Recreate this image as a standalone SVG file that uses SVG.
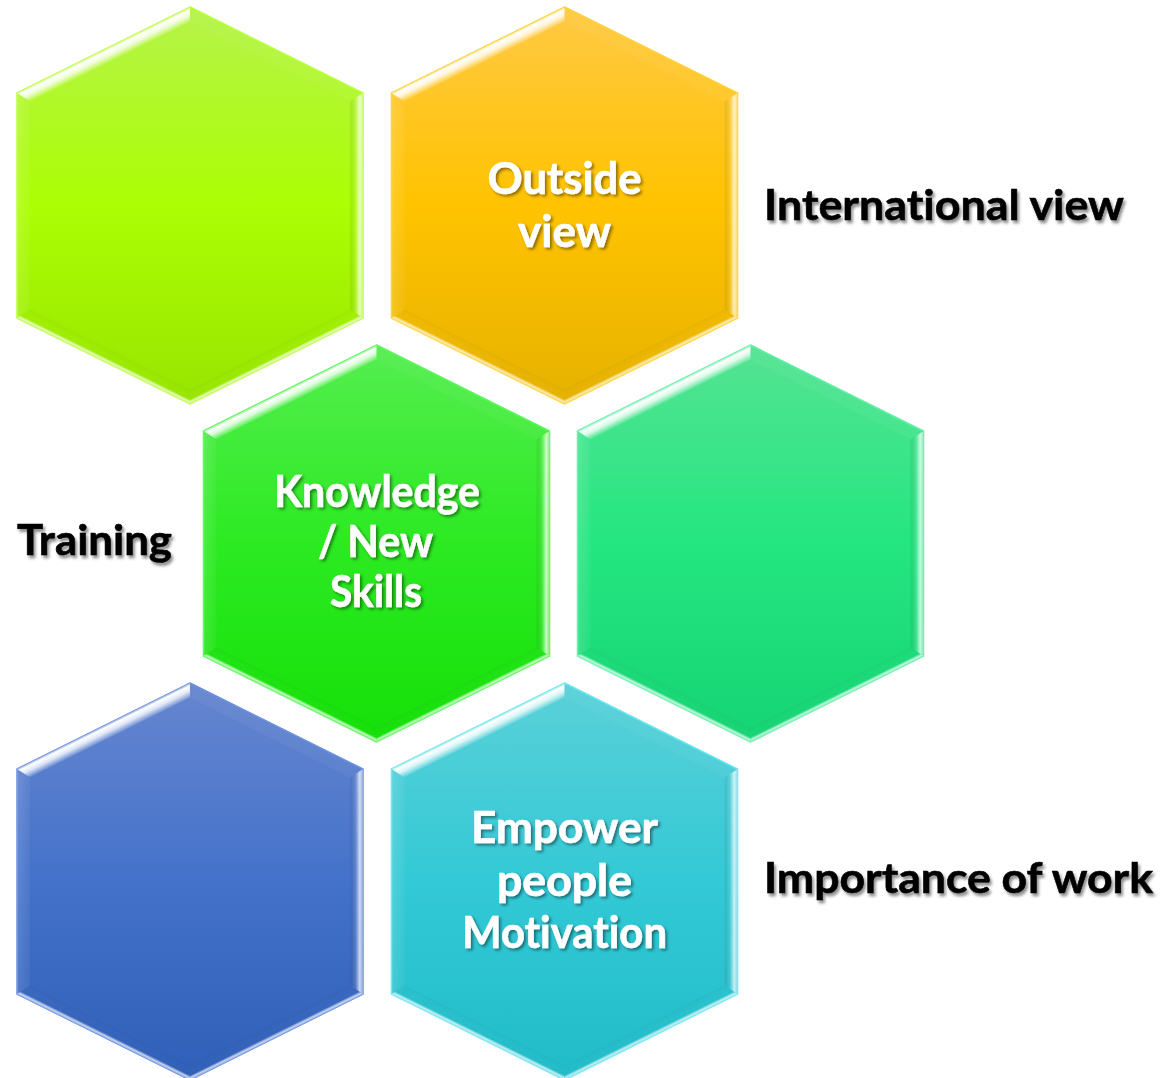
<svg xmlns="http://www.w3.org/2000/svg" xmlns:xlink="http://www.w3.org/1999/xlink" width="1165" height="1078" viewBox="0 0 1165 1078">
  <defs>
    <style>
      .htxt { font-family: "Lato", "Open Sans", "Liberation Sans", sans-serif; font-weight: 700; font-size: 44px; fill: #ffffff; stroke: #ffffff; stroke-width: 0.6; text-anchor: middle; filter: url(#wshadow); font-variant-ligatures: none; font-feature-settings: "liga" 0, "clig" 0; }
      .ltxt { font-family: "Lato", "Open Sans", "Liberation Sans", sans-serif; font-weight: 700; font-size: 42px; fill: #000000; stroke: #000000; stroke-width: 0.6; filter: url(#bshadow); font-variant-ligatures: none; font-feature-settings: "liga" 0, "clig" 0; }
      .outer { stroke-width: 1.5; }
    </style>
    <filter id="wshadow" x="-10%" y="-30%" width="120%" height="160%">
      <feDropShadow dx="2" dy="2" stdDeviation="1.5" flood-color="#000000" flood-opacity="0.45"/>
    </filter>
    <filter id="bshadow" x="-10%" y="-30%" width="120%" height="160%">
      <feDropShadow dx="2" dy="3" stdDeviation="1.8" flood-color="#000000" flood-opacity="0.45"/>
    </filter>
    <polygon id="hexO" points="0,-198.5 173,-112.5 173,112.5 0,198.5 -173,112.5 -173,-112.5"/>
    <linearGradient id="gTL" gradientUnits="userSpaceOnUse" x1="-86.5" y1="-155.5" x2="-80.3" y2="-143">
      <stop offset="0" stop-color="#fff" stop-opacity="0.3"/>
      <stop offset="0.16" stop-color="#fff" stop-opacity="1"/>
      <stop offset="0.5" stop-color="#fff" stop-opacity="0.8"/>
      <stop offset="1" stop-color="#fff" stop-opacity="0"/>
    </linearGradient>
    <linearGradient id="gR" gradientUnits="userSpaceOnUse" x1="160" y1="0" x2="173" y2="0">
      <stop offset="0" stop-color="#000" stop-opacity="0.06"/>
      <stop offset="0.45" stop-color="#fff" stop-opacity="0.15"/>
      <stop offset="0.75" stop-color="#fff" stop-opacity="0.75"/>
      <stop offset="0.92" stop-color="#fff" stop-opacity="0.5"/>
      <stop offset="1" stop-color="#fff" stop-opacity="0.2"/>
    </linearGradient>
    <linearGradient id="gBR" gradientUnits="userSpaceOnUse" x1="86.5" y1="155.5" x2="80.3" y2="143">
      <stop offset="0" stop-color="#fff" stop-opacity="0.3"/>
      <stop offset="0.12" stop-color="#fff" stop-opacity="0.75"/>
      <stop offset="0.3" stop-color="#fff" stop-opacity="0"/>
      <stop offset="1" stop-color="#000" stop-opacity="0.04"/>
    </linearGradient>
    <linearGradient id="gBL" gradientUnits="userSpaceOnUse" x1="-86.5" y1="155.5" x2="-80.3" y2="143">
      <stop offset="0" stop-color="#fff" stop-opacity="0.3"/>
      <stop offset="0.12" stop-color="#fff" stop-opacity="0.75"/>
      <stop offset="0.3" stop-color="#fff" stop-opacity="0"/>
      <stop offset="1" stop-color="#000" stop-opacity="0.04"/>
    </linearGradient>
    <linearGradient id="gL" gradientUnits="userSpaceOnUse" x1="-173" y1="0" x2="-160" y2="0">
      <stop offset="0" stop-color="#fff" stop-opacity="0.14"/>
      <stop offset="1" stop-color="#fff" stop-opacity="0.04"/>
    </linearGradient>
    <g id="bevel">
      <polygon points="-173,-112.5 0,-198.5 0,-184 -160,-104" fill="url(#gTL)"/>
      <polygon points="0,-198.5 173,-112.5 160,-104 0,-184" fill="#fff" fill-opacity="0.04"/>
      <polygon points="173,-112.5 173,112.5 160,104 160,-104" fill="url(#gR)"/>
      <polygon points="173,112.5 0,198.5 0,184 160,104" fill="url(#gBR)"/>
      <polygon points="0,198.5 -173,112.5 -160,104 0,184" fill="url(#gBL)"/>
      <polygon points="-173,112.5 -173,-112.5 -160,-104 -160,104" fill="url(#gL)"/>
    </g>
    <linearGradient id="fLime" x1="0" y1="0" x2="0" y2="1">
      <stop offset="0" stop-color="#b6f34a"/>
      <stop offset="0.5" stop-color="#abfe04"/>
      <stop offset="1" stop-color="#98e500"/>
    </linearGradient>
    <linearGradient id="fOrange" x1="0" y1="0" x2="0" y2="1">
      <stop offset="0" stop-color="#ffc944"/>
      <stop offset="0.5" stop-color="#ffc300"/>
      <stop offset="1" stop-color="#e6b200"/>
    </linearGradient>
    <linearGradient id="fGreen" x1="0" y1="0" x2="0" y2="1">
      <stop offset="0" stop-color="#55ee50"/>
      <stop offset="0.5" stop-color="#2cea22"/>
      <stop offset="1" stop-color="#15e008"/>
    </linearGradient>
    <linearGradient id="fTeal" x1="0" y1="0" x2="0" y2="1">
      <stop offset="0" stop-color="#55e393"/>
      <stop offset="0.5" stop-color="#24e680"/>
      <stop offset="1" stop-color="#15d474"/>
    </linearGradient>
    <linearGradient id="fBlue" x1="0" y1="0" x2="0" y2="1">
      <stop offset="0" stop-color="#6686d0"/>
      <stop offset="0.5" stop-color="#4472ca"/>
      <stop offset="1" stop-color="#2f5fb8"/>
    </linearGradient>
    <linearGradient id="fCyan" x1="0" y1="0" x2="0" y2="1">
      <stop offset="0" stop-color="#5ad1d8"/>
      <stop offset="0.5" stop-color="#33c9d6"/>
      <stop offset="1" stop-color="#20bcc8"/>
    </linearGradient>
  </defs>

  <rect width="1165" height="1078" fill="#ffffff"/>

  <g id="hex-lime" transform="translate(190,205.5)">
    <use xlink:href="#hexO" fill="url(#fLime)" stroke="#b8ff3a" class="outer"/>
    <use xlink:href="#bevel"/>
  </g>

  <g id="hex-outside-view" transform="translate(564.5,205.5)">
    <use xlink:href="#hexO" fill="url(#fOrange)" stroke="#ffd030" class="outer"/>
    <use xlink:href="#bevel"/>
    <text class="htxt" x="0" y="-11.5" textLength="154" lengthAdjust="spacingAndGlyphs">Outside</text>
    <text class="htxt" x="0" y="41.5" textLength="93" lengthAdjust="spacingAndGlyphs">view</text>
  </g>

  <g id="hex-knowledge" transform="translate(376.5,543.5)">
    <use xlink:href="#hexO" fill="url(#fGreen)" stroke="#5af55a" class="outer"/>
    <use xlink:href="#bevel"/>
    <text class="htxt" x="0.5" y="-36.5" textLength="206" lengthAdjust="spacingAndGlyphs">Knowledge</text>
    <text class="htxt" x="-1" y="13.5" textLength="115" lengthAdjust="spacingAndGlyphs">/ New</text>
    <text class="htxt" x="-0.5" y="63.5" textLength="92" lengthAdjust="spacingAndGlyphs">Skills</text>
  </g>

  <g id="hex-teal" transform="translate(750.5,543.5)">
    <use xlink:href="#hexO" fill="url(#fTeal)" stroke="#5ef0a8" class="outer"/>
    <use xlink:href="#bevel"/>
  </g>

  <g id="hex-blue" transform="translate(190,881.5)">
    <use xlink:href="#hexO" fill="url(#fBlue)" stroke="#6a8ee0" class="outer"/>
    <use xlink:href="#bevel"/>
  </g>

  <g id="hex-empower" transform="translate(564.5,881.5)">
    <use xlink:href="#hexO" fill="url(#fCyan)" stroke="#66e6ee" class="outer"/>
    <use xlink:href="#bevel"/>
    <text class="htxt" x="0" y="-38.5" textLength="187" lengthAdjust="spacingAndGlyphs">Empower</text>
    <text class="htxt" x="0" y="14.5" textLength="135" lengthAdjust="spacingAndGlyphs">people</text>
    <text class="htxt" x="0" y="66" textLength="205" lengthAdjust="spacingAndGlyphs">Motivation</text>
  </g>

  <g id="connectors"></g>

  <g id="label-international">
    <text class="ltxt" x="764" y="220" textLength="360" lengthAdjust="spacingAndGlyphs">International view</text>
  </g>
  <g id="label-training">
    <text class="ltxt" x="17" y="555" textLength="155" lengthAdjust="spacingAndGlyphs">Training</text>
  </g>
  <g id="label-importance">
    <text class="ltxt" x="764" y="893" textLength="389" lengthAdjust="spacingAndGlyphs">Importance of work</text>
  </g>
</svg>
